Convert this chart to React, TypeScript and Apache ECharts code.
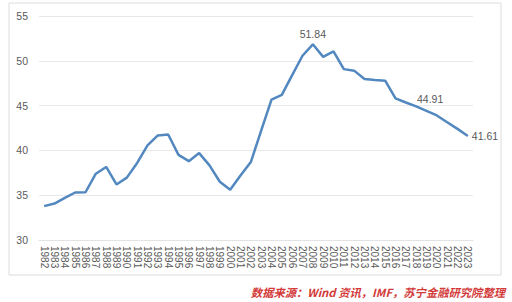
import React, { useEffect, useRef } from "react";
import * as echarts from "echarts";

const years: string[] = [];
for (let y = 1982; y <= 2023; y++) years.push(String(y));

const values: number[] = [
  33.78, 34.07, 34.7, 35.3, 35.33, 37.4, 38.15, 36.2, 36.96, 38.6,
  40.55, 41.67, 41.78, 39.5, 38.8, 39.7, 38.33, 36.5, 35.6, 37.2,
  38.7, 42.2, 45.67, 46.19, 48.4, 50.56, 51.84, 50.44, 51.04, 49.07,
  48.9, 47.96, 47.85, 47.78, 45.8, 45.35, 44.91, 44.4, 43.9, 43.15,
  42.4, 41.61,
];

const labeledYears = ["2008", "2018", "2023"];

const yTicks = { min: 30, max: 55, interval: 5 };

const sourceText = "数据来源：Wind 资讯，IMF，苏宁金融研究院整理";

export default function App() {
  const ref = useRef<HTMLDivElement>(null);
  useEffect(() => {
    if (!ref.current) return;
    const chart = echarts.init(ref.current, undefined, { renderer: "svg" });
    const labelStyle: Record<string, any> = {
      "2008": { position: "top", distance: 5 },
      "2018": { position: "top", distance: 2, offset: [14, 0] },
      "2023": { position: "right", distance: 4 },
    };
    const data = values.map((v, i) => {
      const yr = years[i];
      if (labeledYears.includes(yr)) {
        return {
          value: v,
          label: {
            show: true,
            ...labelStyle[yr],
            formatter: (p: any) => Number(p.value).toFixed(2),
            color: "#595959",
            fontSize: 10.5,
            fontFamily: "Liberation Sans, Arial, sans-serif",
          },
        };
      }
      return v;
    });
    chart.setOption({
      animation: false,
      backgroundColor: "#ffffff",
      grid: { left: 39, right: 39, top: 16, bottom: 62 },
      xAxis: {
        type: "category",
        data: years,
        boundaryGap: true,
        axisLine: { show: true, lineStyle: { color: "#e3e3e3", width: 1 } },
        axisTick: { show: false },
        axisLabel: {
          rotate: -90,
          interval: 0,
          margin: 6,
          color: "#5a5a5a",
          fontSize: 10,
          fontFamily: "Liberation Sans, Arial, sans-serif",
        },
      },
      yAxis: {
        type: "value",
        min: yTicks.min,
        max: yTicks.max,
        interval: yTicks.interval,
        axisLine: { show: false },
        axisTick: { show: false },
        splitLine: { lineStyle: { color: "#e8e8e8", width: 1 } },
        axisLabel: {
          margin: 11,
          color: "#5a5a5a",
          fontSize: 10.5,
          fontFamily: "Liberation Sans, Arial, sans-serif",
        },
      },
      series: [
        {
          type: "line",
          data,
          symbol: "circle",
          symbolSize: 0,
          showSymbol: true,
          lineStyle: { color: "#5288bf", width: 2.5 },
          itemStyle: { color: "#5288bf" },
        },
      ],
      graphic: [
        {
          type: "rect",
          shape: { x: 9, y: 3, width: 492, height: 272 },
          style: { fill: "none", stroke: "#dcdcdc", lineWidth: 1 },
          silent: true,
        },
        {
          type: "text",
          x: 505,
          y: 291.5,
          style: {
            text: sourceText,
            fill: "#d33a3a",
            fontSize: 11.3,
            fontStyle: "italic",
            fontWeight: "bold",
            fontFamily: "Noto Sans CJK SC, sans-serif",
            textAlign: "right",
            textVerticalAlign: "middle",
          },
        },
      ],
    });
    return () => chart.dispose();
  }, []);
  return (
    <div
      ref={ref}
      style={{ position: "fixed", left: 0, top: 0, width: 512, height: 302, background: "#fff" }}
    />
  );
}
